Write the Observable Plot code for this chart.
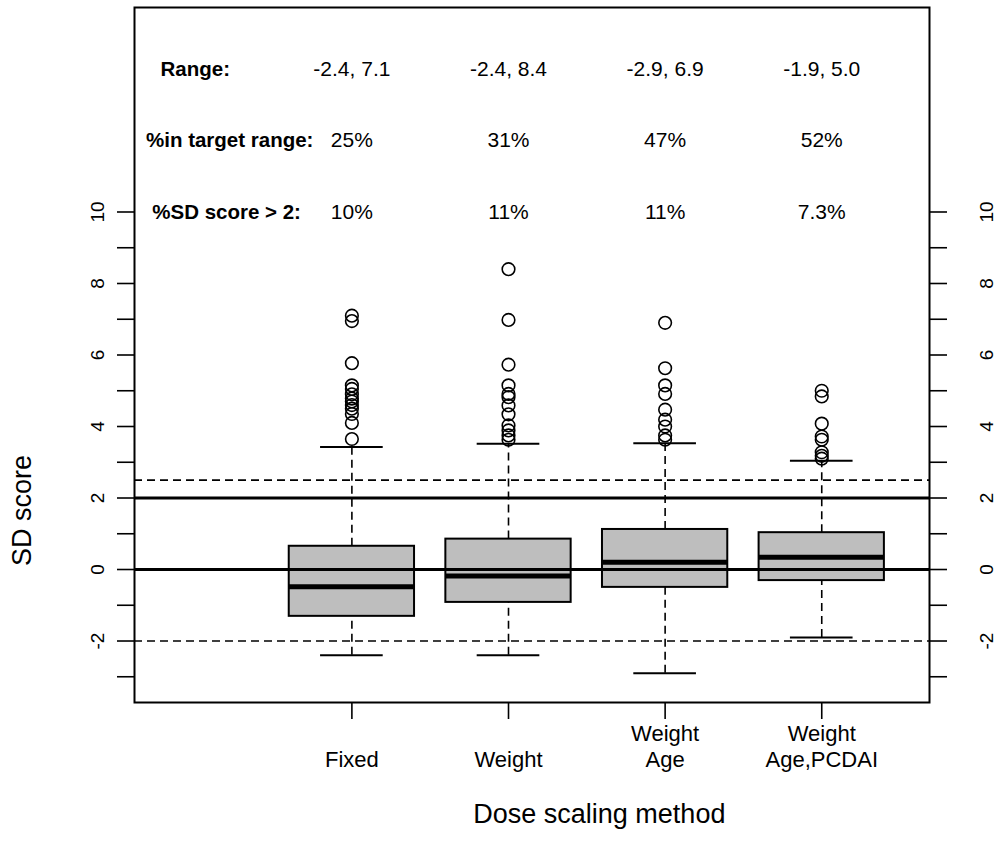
<!DOCTYPE html>
<html>
<head>
<meta charset="utf-8">
<script src="https://cdn.jsdelivr.net/npm/d3@7"></script>
<script src="https://cdn.jsdelivr.net/npm/@observablehq/plot@0.6"></script>
<style>
  body { margin: 0; background: #fff; }
  #chart svg { display: block; }
</style>
</head>
<body>
<div id="chart"></div>
<script>
// ---- Data ----
const methods = ["Fixed", "Weight", "Weight\nAge", "Weight\nAge,PCDAI"];
const positions = [2, 3, 4, 5];
const q1 = [-1.31, -0.92, -0.50, -0.31];
const medians = [-0.48, -0.18, 0.20, 0.34];
const q3 = [0.65, 0.85, 1.12, 1.03];
const whiskerLow = [-2.4, -2.4, -2.9, -1.9];
const whiskerHigh = [3.43, 3.52, 3.53, 3.04];
const outliersFixed = [7.1, 6.95, 5.77, 5.15, 5.05, 4.9, 4.78, 4.7, 4.6, 4.5, 4.35, 4.1, 3.65];
const outliersWeight = [8.4, 6.98, 5.73, 5.15, 4.91, 4.82, 4.59, 4.34, 4.03, 3.89, 3.75, 3.63];
const outliersWeightAge = [6.9, 5.63, 5.15, 4.91, 4.47, 4.19, 4.0, 3.75, 3.63];
const outliersWeightAgePCDAI = [5.0, 4.84, 4.08, 3.72, 3.63, 3.28, 3.18, 3.1];

const rangeText = ["-2.4, 7.1", "-2.4, 8.4", "-2.9, 6.9", "-1.9, 5.0"];
const pctTarget = ["25%", "31%", "47%", "52%"];
const pctAbove2 = ["10%", "11%", "11%", "7.3%"];
const rowLabels = ["Range:", "%in target range:", "%SD score > 2:"];
const rowLabelX = [1.0, 1.22, 1.2];
const rowY = [14, 12, 10];

const yTicks = d3.range(-3, 11);
const yTickLabels = [-2, 0, 2, 4, 6, 8, 10];
const solidRefs = [0, 2];
const dashedRefs = [2.5, -2];

// ---- Build tables ----
const groups = methods.map((m, i) => ({
  method: m, pos: positions[i], q1: q1[i], median: medians[i], q3: q3[i],
  lo: whiskerLow[i], hi: whiskerHigh[i]
}));
const outlierLists = [outliersFixed, outliersWeight, outliersWeightAge, outliersWeightAgePCDAI];
const outliers = outlierLists.flatMap((arr, i) => arr.map(v => ({pos: positions[i], value: v})));
const rows = [rangeText, pctTarget, pctAbove2].flatMap((arr, r) =>
  arr.map((t, i) => ({text: t, pos: positions[i], y: rowY[r]})));
const labelRows = rowLabels.map((t, r) => ({text: t, x: rowLabelX[r], y: rowY[r]}));

const half = 0.4, capHalf = 0.2;
const font = "Liberation Sans, Arial, Helvetica, sans-serif";

const chart = Plot.plot({
  width: 997,
  height: 846,
  marginTop: 7,
  marginRight: 68,
  marginBottom: 144,
  marginLeft: 134,
  style: {fontFamily: font, background: "#fff", color: "#000"},
  x: {type: "linear", domain: [0.612, 5.688]},
  y: {type: "linear", domain: [-3.72, 15.72]},
  marks: [
    // whiskers (dashed)
    Plot.ruleX(groups, {x: "pos", y1: "q3", y2: "hi", stroke: "#000", strokeWidth: 1.6, strokeDasharray: "8,5"}),
    Plot.ruleX(groups, {x: "pos", y1: "lo", y2: "q1", stroke: "#000", strokeWidth: 1.6, strokeDasharray: "8,5"}),
    // whisker caps
    Plot.ruleY(groups, {x1: d => d.pos - capHalf, x2: d => d.pos + capHalf, y: "hi", stroke: "#000", strokeWidth: 2}),
    Plot.ruleY(groups, {x1: d => d.pos - capHalf, x2: d => d.pos + capHalf, y: "lo", stroke: "#000", strokeWidth: 2}),
    // boxes
    Plot.rect(groups, {x1: d => d.pos - half, x2: d => d.pos + half, y1: "q1", y2: "q3", fill: "#bebebe", stroke: "#000", strokeWidth: 2}),
    // medians
    Plot.ruleY(groups, {x1: d => d.pos - half, x2: d => d.pos + half, y: "median", stroke: "#000", strokeWidth: 5}),
    // outliers
    Plot.dot(outliers, {x: "pos", y: "value", r: 6.3, stroke: "#000", fill: "none", strokeWidth: 1.6}),
    // reference lines
    Plot.ruleY(solidRefs, {stroke: "#000", strokeWidth: 3}),
    Plot.ruleY(dashedRefs, {stroke: "#000", strokeWidth: 1.6, strokeDasharray: "8,5"}),
    // frame
    Plot.frame({stroke: "#000", strokeWidth: 2}),
    // axes ticks
    Plot.axisY({anchor: "left", ticks: yTicks, tickSize: 17, tickFormat: () => "", strokeWidth: 1.6, label: null}),
    Plot.axisY({anchor: "right", ticks: yTicks, tickSize: 17, tickFormat: () => "", strokeWidth: 1.6, label: null}),
    Plot.axisX({anchor: "bottom", ticks: positions, tickSize: 17, tickFormat: () => "", strokeWidth: 1.6, label: null}),
    // tick labels (rotated, R style)
    Plot.text(yTickLabels, {y: d => d, text: d => String(d), frameAnchor: "left", textAnchor: "middle", dx: -37, rotate: -90, fontSize: 19, fill: "#000"}),
    Plot.text(yTickLabels, {y: d => d, text: d => String(d), frameAnchor: "right", textAnchor: "middle", dx: 57, rotate: -90, fontSize: 19, fill: "#000"}),
    // category labels
    Plot.text(groups, {x: "pos", text: "method", frameAnchor: "bottom", lineAnchor: "bottom", dy: 64, fontSize: 22, lineHeight: 1.18, fill: "#000"}),
    // axis titles
    Plot.text(["Dose scaling method"], {x: 3.58, frameAnchor: "bottom", dy: 120, fontSize: 27, fill: "#000"}),
    Plot.text(["SD score"], {y: 1.65, frameAnchor: "left", textAnchor: "middle", dx: -112, rotate: -90, fontSize: 27, fill: "#000"}),
    // summary rows
    Plot.text(labelRows, {x: "x", y: "y", text: "text", fontSize: 20.5, fontWeight: "bold", fill: "#000"}),
    Plot.text(rows, {x: "pos", y: "y", text: "text", fontSize: 21, fill: "#000"})
  ]
});
document.getElementById("chart").appendChild(chart);
</script>
</body>
</html>
